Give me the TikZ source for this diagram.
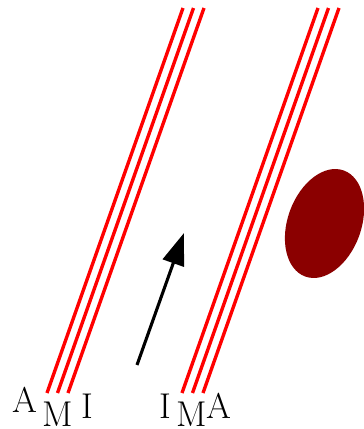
\documentclass[tikz,border=0pt]{standalone}
\usetikzlibrary{arrows.meta}
\definecolor{blobred}{RGB}{139,0,0}
\begin{document}
\begin{tikzpicture}[
      every node/.style={font=\fontsize{25.5}{30}\selectfont, inner sep=0pt, anchor=base},
      wall/.style={red, line width=2.4pt},
      flow/.style={line width=2.2pt, -{Triangle[length=8mm, width=5.5mm]}},
      blob/.style={fill=blobred}
  ]
    \useasboundingbox (0,0) rectangle (9.1,10.725);

    % two sets of three lines
    \foreach \s in {0,3.375} {
      \foreach \x in {0,0.2625,0.525} {
        \draw[wall] (1.175+\s+\x,0.9) -- (4.575+\s+\x,10.525);
      }
    }

    \node (lA) at (0.6125,0.4) {A};
    \node (lM) at (1.45,0.07) {M};
    \node (lI) at (2.1875,0.275) {I};
    \node (rI) at (4.1375,0.275) {I};
    \node (rM) at (4.8,0.07) {M};
    \node (rA) at (5.4625,0.275) {A};

    \coordinate (tail) at (3.425,1.6);
    \coordinate (head) at (4.6,4.9);
    \draw[flow] (tail) -- (head);

    \fill[blob, rotate around={70:(8.1125,5.1375)}] (8.1125,5.1375) ellipse [x radius=1.41, y radius=0.92];
  \end{tikzpicture}
\end{document}
